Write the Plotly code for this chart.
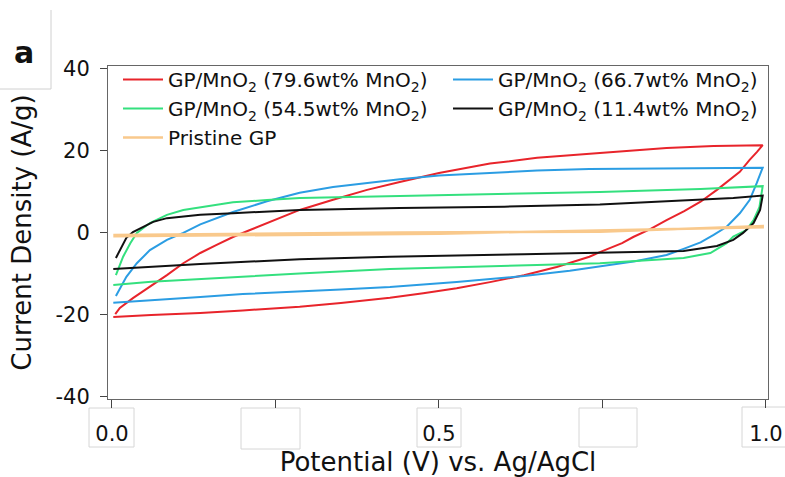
import plotly.graph_objects as go

# ---------------- data ----------------
names = [
    "GP/MnO<sub>2</sub> (79.6wt% MnO<sub>2</sub>)",
    "GP/MnO<sub>2</sub> (66.7wt% MnO<sub>2</sub>)",
    "GP/MnO<sub>2</sub> (54.5wt% MnO<sub>2</sub>)",
    "GP/MnO<sub>2</sub> (11.4wt% MnO<sub>2</sub>)",
    "Pristine GP",
]
colors = ["#e8242b", "#2b9de3", "#34e07e", "#111111", "#f9c98c"]

# red 79.6 wt%
red_up_v = [0.005, 0.012, 0.032, 0.058, 0.084, 0.109, 0.135, 0.16, 0.185, 0.211, 0.237, 0.287, 0.338, 0.39, 0.44, 0.5, 0.578, 0.65, 0.746, 0.848, 0.92, 0.995]
red_up_i = [-19.9, -18.4, -16.0, -13.3, -10.4, -7.5, -5.0, -3.0, -1.1, 0.6, 2.3, 5.5, 8.0, 10.4, 12.3, 14.5, 16.8, 18.2, 19.4, 20.6, 21.1, 21.3]
red_dn_v = [0.995, 0.986, 0.975, 0.96, 0.95, 0.925, 0.9, 0.875, 0.848, 0.823, 0.797, 0.78, 0.746, 0.73, 0.68, 0.63, 0.578, 0.527, 0.476, 0.425, 0.35, 0.287, 0.2, 0.135, 0.06, 0.002]
red_dn_i = [21.3, 19.6, 17.7, 14.8, 13.5, 10.4, 7.5, 5.2, 3.0, 0.8, -1.1, -2.6, -4.8, -5.9, -8.4, -10.4, -12.1, -13.6, -14.8, -15.9, -17.2, -18.1, -19.0, -19.6, -20.1, -20.6]

# blue 66.7 wt%
blue_up_v = [0.006, 0.022, 0.038, 0.058, 0.084, 0.109, 0.135, 0.185, 0.237, 0.287, 0.338, 0.39, 0.44, 0.5, 0.578, 0.65, 0.73, 0.884, 0.995]
blue_up_i = [-15.5, -10.8, -7.5, -4.3, -1.8, -0.1, 2.0, 5.0, 7.6, 9.7, 11.1, 12.1, 13.0, 13.9, 14.6, 15.1, 15.5, 15.7, 15.8]
blue_dn_v = [0.995, 0.986, 0.975, 0.96, 0.94, 0.92, 0.9, 0.874, 0.848, 0.8, 0.746, 0.7, 0.63, 0.578, 0.527, 0.476, 0.425, 0.35, 0.287, 0.2, 0.135, 0.06, 0.002]
blue_dn_i = [15.8, 12.1, 7.9, 4.7, 1.4, -0.6, -2.4, -4.0, -5.5, -7.0, -8.3, -9.3, -10.6, -11.4, -12.1, -12.7, -13.3, -13.9, -14.3, -15.0, -15.7, -16.4, -17.1]

# green 54.5 wt%
green_up_v = [0.006, 0.017, 0.028, 0.038, 0.058, 0.084, 0.109, 0.135, 0.185, 0.237, 0.287, 0.44, 0.6, 0.746, 0.9, 0.995]
green_up_i = [-10.4, -5.9, -2.6, -0.1, 2.3, 4.3, 5.5, 6.2, 7.4, 7.9, 8.4, 8.9, 9.4, 9.9, 10.6, 11.3]
green_dn_v = [0.995, 0.99, 0.981, 0.97, 0.95, 0.94, 0.915, 0.874, 0.8, 0.746, 0.65, 0.578, 0.425, 0.287, 0.135, 0.06, 0.002]
green_dn_i = [11.3, 6.2, 3.0, 0.6, -1.0, -2.6, -5.0, -6.2, -7.0, -7.5, -7.9, -8.2, -8.9, -10.0, -11.3, -12.0, -12.8]

# black 11.4 wt%
black_up_v = [0.006, 0.012, 0.022, 0.032, 0.048, 0.063, 0.084, 0.135, 0.185, 0.287, 0.44, 0.6, 0.746, 0.884, 0.95, 0.995]
black_up_i = [-6.2, -4.3, -1.3, 0.1, 1.3, 2.6, 3.5, 4.3, 4.7, 5.5, 6.0, 6.3, 6.8, 7.9, 8.4, 9.0]
black_dn_v = [0.995, 0.991, 0.981, 0.965, 0.95, 0.925, 0.874, 0.746, 0.63, 0.425, 0.287, 0.135, 0.06, 0.002]
black_dn_i = [9.0, 5.5, 2.3, -0.1, -1.8, -3.3, -4.5, -5.0, -5.3, -5.9, -6.5, -7.7, -8.4, -8.9]

# pristine GP
gp_up_v = [0.002, 0.44, 0.746, 0.995]
gp_up_i = [-0.6, 0.0, 0.2, 1.6]
gp_dn_v = [0.995, 0.5, 0.002]
gp_dn_i = [1.3, -0.3, -0.9]

series_v = [red_up_v + red_dn_v, blue_up_v + blue_dn_v, green_up_v + green_dn_v,
            black_up_v + black_dn_v, gp_up_v + gp_dn_v]
series_i = [red_up_i + red_dn_i, blue_up_i + blue_dn_i, green_up_i + green_dn_i,
            black_up_i + black_dn_i, gp_up_i + gp_dn_i]
widths = [2, 2, 2, 2, 2.5]

x_tickvals = [0, 0.25, 0.5, 0.75, 1.0]
x_ticktext = ["0.0", "", "0.5", "", "1.0"]
y_tickvals = [-40, -20, 0, 20, 40]
y_ticktext = ["-40", "-20", "0", "20", "40"]

FONT = "DejaVu Sans"

# ---------------- figure ----------------
fig = go.Figure()
for n, c, v, i, w in zip(names, colors, series_v, series_i, widths):
    fig.add_trace(go.Scatter(x=v, y=i, mode="lines", name=n,
                             line=dict(color=c, width=w)))

W, H = 785, 477
ML, MR, MT, MB = 108, 17, 66, 78
PW, PH = W - ML - MR, H - MT - MB


def px(xp):
    return (xp - ML) / PW


def py(yp):
    return (H - MB - yp) / PH


shapes = []
# boxes around the x tick label area (as in reference image)
for x0, x1, y0, y1 in [(89, 134, 408, 447), (241, 300, 408, 449), (417, 461, 408, 447),
                       (579, 637, 408, 447), (742, 800, 407, 447)]:
    shapes.append(dict(type="rect", xref="paper", yref="paper",
                       x0=px(x0), x1=px(x1), y0=py(y1), y1=py(y0),
                       line=dict(color="#d6d6d6", width=1), fillcolor="rgba(0,0,0,0)",
                       layer="below"))
# box around panel letter
shapes.append(dict(type="line", xref="paper", yref="paper", x0=px(51), x1=px(51),
                   y0=py(89), y1=py(10), line=dict(color="#d0d0d0", width=1)))
shapes.append(dict(type="line", xref="paper", yref="paper", x0=px(-2), x1=px(51),
                   y0=py(89), y1=py(89), line=dict(color="#d0d0d0", width=1)))

fig.update_layout(
    width=W, height=H,
    margin=dict(l=ML, r=MR, t=MT, b=MB, autoexpand=False),
    paper_bgcolor="white", plot_bgcolor="white",
    font=dict(family=FONT, color="#111111"),
    shapes=shapes,
    showlegend=True,
    legend=dict(orientation="h", x=px(118), y=py(60), xanchor="left", yanchor="top",
                entrywidth=275, entrywidthmode="pixels", itemwidth=40,
                font=dict(family=FONT, size=20, color="#111111"),
                bgcolor="rgba(0,0,0,0)", traceorder="normal"),
    annotations=[dict(text="<b>a</b>", xref="paper", yref="paper",
                      x=px(24), y=py(52), xanchor="center", yanchor="middle",
                      showarrow=False,
                      font=dict(family=FONT, size=30, color="#111111"))],
)

fig.update_xaxes(range=[-0.0061, 1.0031], tickvals=x_tickvals, ticktext=x_ticktext,
                 automargin=False,
                 ticks="outside", ticklen=8, tickcolor="#444", tickwidth=1,
                 showline=True, linecolor="#666", linewidth=1, mirror=True,
                 showgrid=False, zeroline=False,
                 tickfont=dict(family=FONT, size=21, color="#111111"),
                 ticklabelstandoff=8,
                 title=dict(text="Potential (V) vs. Ag/AgCl", standoff=8,
                            font=dict(family=FONT, size=26, color="#111111")))
fig.update_yaxes(range=[-40.6, 40.6], tickvals=y_tickvals, ticktext=y_ticktext,
                 automargin=False,
                 ticks="outside", ticklen=7, tickcolor="#444", tickwidth=1,
                 showline=True, linecolor="#666", linewidth=1, mirror=True,
                 showgrid=False, zeroline=False,
                 tickfont=dict(family=FONT, size=21, color="#111111"),
                 ticklabelstandoff=6,
                 title=dict(text="Current Density (A/g)", standoff=16,
                            font=dict(family=FONT, size=26, color="#111111")))

fig.write_html("out.html")
